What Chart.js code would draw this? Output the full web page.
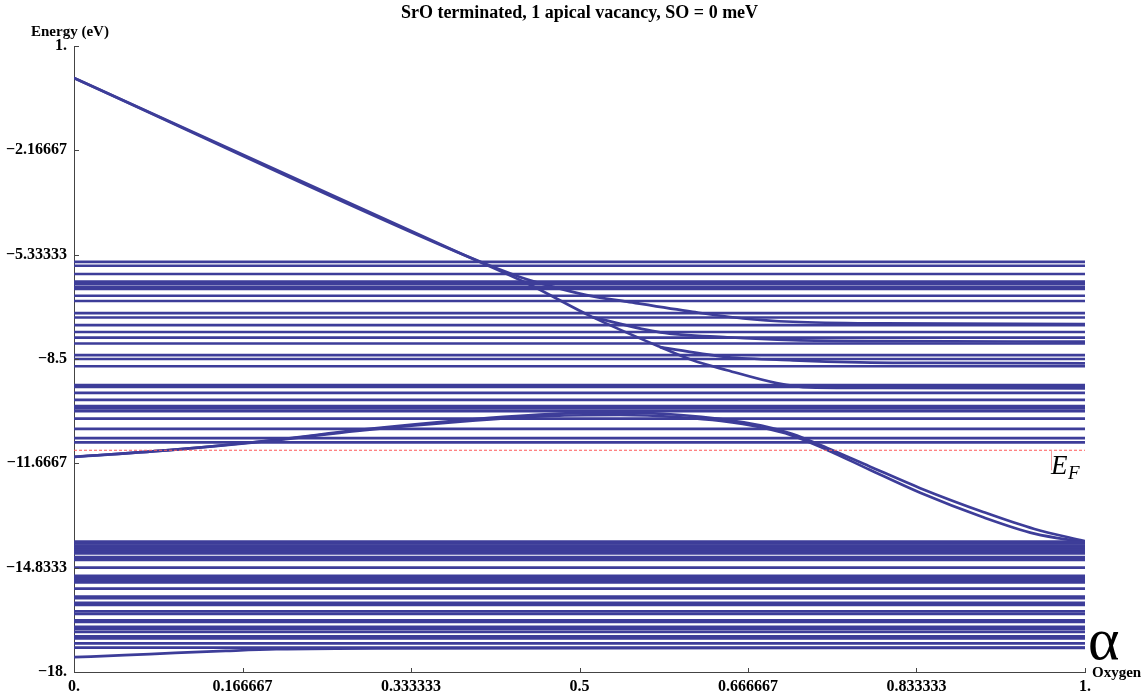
<!DOCTYPE html>
<html>
<head>
<meta charset="utf-8">
<script src="https://cdn.jsdelivr.net/npm/chart.js@4.4.1/dist/chart.umd.min.js"></script>
<style>
  html, body { margin: 0; padding: 0; background: #fff; }
</style>
</head>
<body>
<canvas id="bands" width="1146" height="694"></canvas>
<script>
// tick values and labels (Mathematica style)
const xTicks = [0, 0.166667, 0.333333, 0.5, 0.666667, 0.833333, 1];
const xTickLabels = ["0.", "0.166667", "0.333333", "0.5", "0.666667", "0.833333", "1."];
const yTicks = [1, -2.16667, -5.33333, -8.5, -11.6667, -14.8333, -18];
const yTickLabels = ["1.", "\u22122.16667", "\u22125.33333", "\u22128.5", "\u221211.6667", "\u221214.8333", "\u221218."];

const fermiLevel = -11.27;

// flat levels (eV)
const upperBand = [-5.55, -5.67, -5.92, -6.15, -6.22, -6.31, -6.37, -6.58, -6.74, -7.11, -7.24,
  -7.47, -7.68, -7.85, -8.03, -8.38, -8.5, -8.72, -9.29, -9.35, -9.53, -9.74, -9.93, -10.0,
  -10.08, -10.31, -10.62, -10.9, -11.03];
const lowerBand = [-14.04, -14.1, -14.16, -14.22, -14.28, -14.34, -14.4, -14.51, -14.56, -14.6,
  -14.83, -15.08, -15.15, -15.22, -15.28, -15.47, -15.71, -15.76, -15.9, -15.96, -16.16, -16.24,
  -16.43, -16.48, -16.63, -16.69, -16.78, -16.92, -16.98, -17.13, -17.26];

// dispersing levels
const steepAlpha = [0, 0.382, 0.448, 0.513, 0.58, 0.612, 0.646, 0.695, 0.728, 0.8, 1];
const steepE = [0.03, -5.29, -6.2, -7.23, -8.14, -8.54, -8.84, -9.23, -9.36, -9.38, -9.39];

const bend1Alpha = [0, 0.39, 0.441, 0.474, 0.507, 0.547, 0.612, 0.662, 0.711, 0.8, 1];
const bend1E = [0.03, -5.4, -6.01, -6.31, -6.56, -6.76, -7.07, -7.27, -7.37, -7.42, -7.44];

const bend2Alpha = [0.513, 0.58, 0.646, 0.711, 0.8, 1];
const bend2E = [-7.23, -7.69, -7.84, -7.93, -7.96, -7.97];

const bend3Alpha = [0.58, 0.646, 0.711, 0.777, 0.85, 1];
const bend3E = [-8.14, -8.44, -8.54, -8.6, -8.62, -8.63];

const arcAlpha = [0, 0.1, 0.2, 0.28, 0.382, 0.48, 0.54, 0.6, 0.64, 0.68, 0.71, 0.745, 0.787, 0.837, 0.9, 0.95, 1];
const arcUpperE = [-11.47, -11.25, -10.95, -10.66, -10.36, -10.16, -10.13, -10.2, -10.32, -10.52, -10.77, -11.2, -11.76, -12.42, -13.15, -13.66, -14.03];
const arcLowerE = [-11.47, -11.25, -10.96, -10.68, -10.4, -10.22, -10.2, -10.27, -10.38, -10.58, -10.82, -11.26, -11.86, -12.56, -13.31, -13.8, -14.06];

const bottomAlpha = [0, 0.05, 0.1, 0.15, 0.2, 0.3, 1];
const bottomE = [-17.55, -17.49, -17.42, -17.36, -17.31, -17.28, -17.27];

const BLUE = '#3d3d99';
const LW = 2.7;
const serif = '"Liberation Serif", "Times New Roman", serif';

function levelLine(e) {
  return { data: [{ x: 0, y: e }, { x: 1, y: e }], borderColor: BLUE, borderWidth: LW, pointRadius: 0, showLine: true };
}
function curveLine(xs, es) {
  return {
    data: xs.map((a, i) => ({ x: a, y: es[i] })),
    borderColor: BLUE, borderWidth: LW, pointRadius: 0, showLine: true,
    cubicInterpolationMode: 'monotone'
  };
}

const datasets = [
  { data: [{ x: 0, y: fermiLevel }, { x: 1, y: fermiLevel }], borderColor: '#ff5a5a', borderWidth: 1,
    borderDash: [3, 2], pointRadius: 0, showLine: true },
  ...upperBand.map(levelLine),
  ...lowerBand.map(levelLine),
  curveLine(steepAlpha, steepE),
  curveLine(bend1Alpha, bend1E),
  curveLine(bend2Alpha, bend2E),
  curveLine(bend3Alpha, bend3E),
  curveLine(arcAlpha, arcUpperE),
  curveLine(arcAlpha, arcLowerE),
  curveLine(bottomAlpha, bottomE)
];

// inward tick marks, title and the loose labels
const decor = {
  id: 'decor',
  afterDraw(chart) {
    const { ctx, chartArea: a, scales: { x, y } } = chart;
    ctx.save();
    ctx.strokeStyle = '#444';
    ctx.lineWidth = 1;
    yTicks.forEach(v => {
      const py = Math.round(y.getPixelForValue(v)) + 0.5;
      ctx.beginPath(); ctx.moveTo(a.left, py); ctx.lineTo(a.left + 5, py); ctx.stroke();
    });
    xTicks.forEach(v => {
      const px = Math.round(x.getPixelForValue(v)) + 0.5;
      ctx.beginPath(); ctx.moveTo(px, a.bottom); ctx.lineTo(px, a.bottom - 4); ctx.stroke();
    });

    ctx.fillStyle = '#000';
    ctx.textBaseline = 'alphabetic';
    ctx.font = 'bold 18px ' + serif;
    ctx.textAlign = 'center';
    ctx.fillText('SrO terminated, 1 apical vacancy, SO = 0 meV', (a.left + a.right) / 2, 18);

    ctx.font = 'bold 15px ' + serif;
    ctx.textAlign = 'left';
    ctx.fillText('Energy (eV)', 31, 36);
    ctx.fillText('Oxygen', 1092, 677);

    ctx.font = '60px ' + serif;
    ctx.fillText('\u03b1', 1088, 659);

    // E_F label
    const fy = y.getPixelForValue(fermiLevel);
    ctx.fillStyle = '#f2a0a0';
    ctx.fillRect(1051, fy, 1, 20);
    ctx.fillStyle = '#000';
    ctx.font = 'italic 27px ' + serif;
    ctx.fillText('E', 1051, fy + 24);
    ctx.font = 'italic 19px ' + serif;
    ctx.fillText('F', 1068, fy + 29);
    ctx.restore();
  }
};

new Chart(document.getElementById('bands'), {
  type: 'scatter',
  data: { datasets },
  options: {
    responsive: false,
    animation: false,
    devicePixelRatio: 1,
    layout: { padding: { top: 46, right: 61, bottom: 0, left: 0 } },
    plugins: { legend: { display: false }, tooltip: { enabled: false } },
    elements: { line: { borderCapStyle: 'butt' } },
    scales: {
      x: {
        type: 'linear', min: 0, max: 1,
        afterFit: s => { s.height = 22; },
        afterBuildTicks: s => { s.ticks = xTicks.map(v => ({ value: v })); },
        grid: { display: false, drawTicks: false },
        border: { display: true, color: '#444', width: 1 },
        ticks: {
          padding: 5, color: '#000', maxRotation: 0, autoSkip: false,
          font: { family: serif, size: 16, weight: 'bold' },
          callback: (v, i) => xTickLabels[i]
        }
      },
      y: {
        type: 'linear', min: -18, max: 1,
        afterFit: s => { s.width = 74; },
        afterBuildTicks: s => { s.ticks = yTicks.map(v => ({ value: v })); },
        grid: { display: false, drawTicks: false },
        border: { display: true, color: '#444', width: 1 },
        ticks: {
          padding: 7, color: '#000', autoSkip: false,
          font: { family: serif, size: 16, weight: 'bold' },
          callback: (v, i) => yTickLabels[i]
        }
      }
    }
  },
  plugins: [decor]
});
</script>
</body>
</html>
